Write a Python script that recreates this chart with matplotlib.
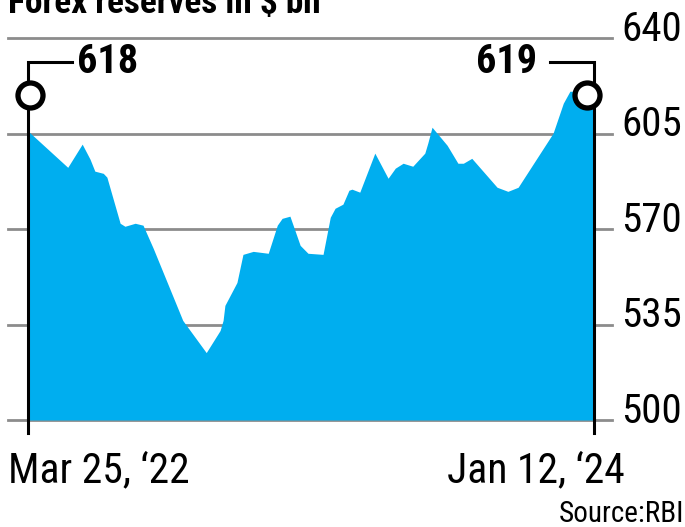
import matplotlib.pyplot as plt
from matplotlib import font_manager

# weeks since Mar 25 '22, values in $ bn
weeks = [0, 6.6, 9.0, 10.3, 11.1, 12.5, 13.1, 15.3, 16.1, 17.8, 19.1, 20.8, 25.7,
         29.6, 31.9, 32.4, 32.7, 34.7, 35.7, 37.4, 39.9, 41.4, 42.2, 43.5, 45.2,
         46.5, 49.0, 50.2, 51.0, 52.3, 53.3, 53.8, 55.1, 57.6, 59.8, 61.0, 62.3,
         63.9, 65.9, 66.4, 67.1, 69.6, 71.4, 72.3, 73.7, 77.9, 79.7, 81.4, 87.2,
         88.9, 90.0, 94]
reserves = [605.9, 592.6, 601.1, 595.6, 591.2, 590.4, 589.0, 572.1, 571.0, 572.1,
            571.4, 562.9, 536.5, 524.7, 532.8, 536.5, 542.0, 550.4, 560.7, 561.8,
            561.1, 571.4, 573.9, 574.7, 564.0, 561.1, 560.7, 574.3, 577.6, 579.1,
            584.2, 584.6, 583.5, 597.8, 588.6, 592.3, 594.1, 593.0, 597.8, 601.5,
            607.3, 600.7, 594.1, 594.1, 595.9, 585.3, 583.8, 585.3, 605.1, 616.1,
            620.5, 620.2]
yticks = [500, 535, 570, 605, 640]
start_label, end_label = 618, 619
date_labels = ["Mar 25, \u201822", "Jan 12, \u201824"]

# look for a condensed / narrow face, the chart uses one
font = {"family": "DejaVu Sans", "stretch": "normal"}
best = None
for f in font_manager.fontManager.ttflist:
    narrowish = ("Condensed" in f.name or "Narrow" in f.name
                 or str(f.stretch) not in ("normal", "500"))
    if not narrowish or f.style != "normal":
        continue
    rank = 0 if "Roboto" in f.name else 1 if "Narrow" in f.name else 2
    if best is None or rank < best[0]:
        best = (rank, f)
if best is not None:
    font = {"family": best[1].name, "stretch": best[1].stretch}

BLUE = "#00AEEF"
GREY = "#8c8c8c"

fig = plt.figure(figsize=(6.85, 5.27), dpi=100)
ax = fig.add_axes([28 / 685, 107 / 527, 566 / 685, 382 / 527])
ax.set_xlim(0, 94)
ax.set_ylim(500, 640)
ax.axis("off")

# px -> data helpers for the bits that sit outside the plot box
def wx(px):
    return (px - 28) / 566 * 94

def vy(py):
    return 640 - (py - 38) / 382 * 140

# grid lines (behind the area)
for t in yticks:
    ax.plot([wx(8), wx(612)], [t, t], color=GREY, lw=2, clip_on=False, zorder=1)
    ax.text(wx(621), t - 1.0, str(t), fontsize=29.5, fontfamily=font["family"],
            fontstretch=font["stretch"], ha="left", va="baseline", clip_on=False)

ax.fill_between(weeks, reserves, 500, color=BLUE, lw=0, zorder=2)

# end markers with connectors
top = vy(62)
ax.plot([wx(72), 0, 0], [top, top, vy(433)], color="black", lw=2.2,
        clip_on=False, zorder=3, solid_joinstyle="miter")
ax.plot([wx(550), 94, 94], [top, top, vy(433)], color="black", lw=2.2,
        clip_on=False, zorder=3, solid_joinstyle="miter")
ax.plot([0.3, 92.8], [start_label + 1.2, end_label + 0.2], "o", ms=18,
        mfc="white", mec="black", mew=3.8, clip_on=False, zorder=4)
ax.text(wx(77), top, str(start_label), fontsize=29, fontweight="bold",
        fontfamily=font["family"], fontstretch=font["stretch"],
        ha="left", va="center")
ax.text(wx(537), top, str(end_label), fontsize=29, fontweight="bold",
        fontfamily=font["family"], fontstretch=font["stretch"],
        ha="right", va="center")

# title (cut off at the top, as in the original), dates, source
kw = dict(fontfamily=font["family"], fontstretch=font["stretch"])
fig.text(8 / 685, 1 - 13 / 527, "Forex reserves in $ bn", fontsize=25.5,
         fontweight="bold", ha="left", va="baseline", **kw)
fig.text(8 / 685, 1 - 482 / 527, date_labels[0], fontsize=30,
         ha="left", va="baseline", **kw)
fig.text(625 / 685, 1 - 482 / 527, date_labels[1], fontsize=30,
         ha="right", va="baseline", **kw)
fig.text(684 / 685, 1 - 522 / 527, "Source:RBI", fontsize=21,
         ha="right", va="baseline", **kw)

fig.savefig("out.png", dpi=100)
